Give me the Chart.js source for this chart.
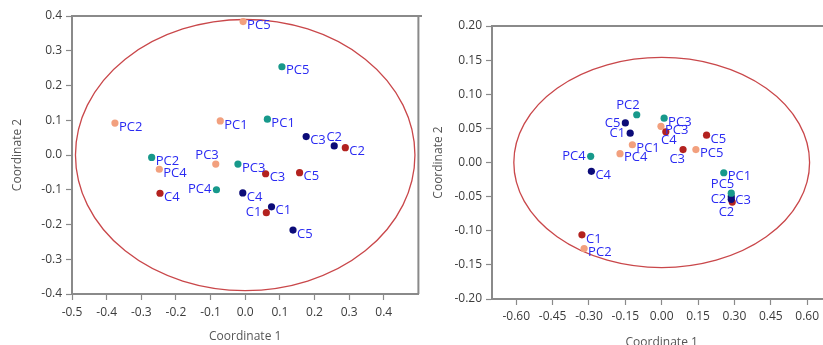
<!DOCTYPE html>
<html>
<head>
<meta charset="utf-8">
<script src="https://cdn.jsdelivr.net/npm/chart.js@4"></script>
<style>
	html, body { margin: 0; padding: 0; background: #fff; overflow: hidden; }
	#wrap { position: relative; width: 823px; height: 345px; overflow: hidden; }
	#left-chart { position: absolute; left: 0; top: 0; }
	#right-chart { position: absolute; left: 422px; top: 0; }
</style>
</head>
<body>
<div id="wrap">
	<canvas id="left-chart" width="422" height="345"></canvas>
	<canvas id="right-chart" width="413" height="345"></canvas>
</div>
<script>
var pcNames = ['PC1', 'PC2', 'PC3', 'PC4', 'PC5'];
var cNames = ['C1', 'C2', 'C3', 'C4', 'C5'];

// left plot
var leftTealX = [0.064, -0.270, -0.021, -0.083, 0.106];
var leftTealY = [0.103, -0.007, -0.026, -0.100, 0.254];
var leftSalmonX = [-0.072, -0.376, -0.085, -0.248, -0.006];
var leftSalmonY = [0.098, 0.092, -0.026, -0.041, 0.384];
var leftNavyX = [0.076, 0.257, 0.176, -0.007, 0.138];
var leftNavyY = [-0.149, 0.026, 0.053, -0.109, -0.216];
var leftRedX = [0.061, 0.289, 0.059, -0.246, 0.157];
var leftRedY = [-0.166, 0.021, -0.054, -0.110, -0.051];
var leftXTicks = [-0.5, -0.4, -0.3, -0.2, -0.1, 0.0, 0.1, 0.2, 0.3, 0.4];
var leftYTicks = [-0.4, -0.3, -0.2, -0.1, 0.0, 0.1, 0.2, 0.3, 0.4];
var leftEllipse = [0, 0, 0.49, 0.39]; // centre x, centre y, half width, half height

// right plot
var rightTealX = [0.256, -0.103, 0.010, -0.293, 0.287];
var rightTealY = [-0.015, 0.070, 0.065, 0.009, -0.045];
var rightSalmonX = [-0.121, -0.320, -0.003, -0.172, 0.141];
var rightSalmonY = [0.026, -0.126, 0.053, 0.013, 0.019];
var rightNavyX = [-0.130, 0.287, 0.287, -0.290, -0.150];
var rightNavyY = [0.043, -0.054, -0.050, -0.013, 0.058];
var rightRedX = [-0.329, 0.291, 0.088, 0.017, 0.185];
var rightRedY = [-0.106, -0.058, 0.019, 0.045, 0.040];
var rightXTicks = [-0.6, -0.45, -0.3, -0.15, 0.0, 0.15, 0.3, 0.45, 0.6];
var rightYTicks = [-0.2, -0.15, -0.1, -0.05, 0.0, 0.05, 0.1, 0.15, 0.2];
var rightEllipse = [0, 0, 0.61, 0.154];

var colors = { teal: '#17998b', navy: '#0b0b78', red: '#b3221f', salmon: '#f2a07e' };

// where a label sits next to its dot, default is right
var labelSide = {
	'L-salmon-PC3': 'al', 'L-teal-PC4': 'l', 'L-navy-C2': 'a', 'L-red-C1': 'l',
	'R-teal-PC2': 'al', 'R-teal-PC4': 'l', 'R-teal-PC5': 'al',
	'R-red-C3': 'bl', 'R-red-C4': 'b', 'R-red-C2': 'bl',
	'R-navy-C5': 'l', 'R-navy-C1': 'l', 'R-navy-C2': 'l'
};

Chart.defaults.font.family = "'Open Sans', 'DejaVu Sans', sans-serif";
Chart.defaults.font.size = 12;

function points(xs, ys)
{
	return xs.map(function (x, i) { return { x: x, y: ys[i] }; });
}

function dataset(key, names, xs, ys)
{
	return {
		key: key,
		names: names,
		data: points(xs, ys),
		backgroundColor: colors[key],
		borderWidth: 0,
		pointRadius: 3.6,
		pointHoverRadius: 3.6
	};
}

var ellipsePlugin = {
	id: 'ellipse',
	beforeDatasetsDraw: function (chart)
	{
		var e = chart.options.plugins.ellipse.values;
		var sx = chart.scales.x, sy = chart.scales.y;
		var cx = sx.getPixelForValue(e[0]), cy = sy.getPixelForValue(e[1]);
		var rx = Math.abs(sx.getPixelForValue(e[0] + e[2]) - cx);
		var ry = Math.abs(sy.getPixelForValue(e[1] + e[3]) - cy);
		var ctx = chart.ctx;
		ctx.save();
		ctx.beginPath();
		ctx.ellipse(cx, cy, rx, ry, 0, 0, Math.PI * 2);
		ctx.strokeStyle = '#c9474a';
		ctx.lineWidth = 1.3;
		ctx.stroke();
		ctx.restore();
	}
};

var framePlugin = {
	id: 'frame',
	afterDraw: function (chart)
	{
		var a = chart.chartArea, ctx = chart.ctx;
		ctx.save();
		ctx.strokeStyle = '#8a8a8a';
		ctx.lineWidth = 2;
		ctx.beginPath();
		ctx.moveTo(a.left, a.top);
		ctx.lineTo(chart.width, a.top);
		if (chart.options.plugins.frame.right) {
			ctx.moveTo(a.right, a.top);
			ctx.lineTo(a.right, a.bottom);
		}
		ctx.stroke();
		ctx.restore();
	}
};

var labelPlugin = {
	id: 'pointLabels',
	afterDatasetsDraw: function (chart)
	{
		var ctx = chart.ctx;
		var side = chart.options.plugins.pointLabels.prefix;
		ctx.save();
		ctx.font = "13px 'Open Sans', sans-serif";
		ctx.fillStyle = '#2a2af2';
		ctx.textBaseline = 'middle';
		ctx.textAlign = 'left';
		chart.data.datasets.forEach(function (ds, di) {
			var meta = chart.getDatasetMeta(di);
			meta.data.forEach(function (pt, i) {
				var text = ds.names[i];
				var s = labelSide[side + '-' + ds.key + '-' + text] || 'r';
				var w = ctx.measureText(text).width;
				var tx, ty;
				if (s === 'l') { tx = pt.x - 5 - w; ty = pt.y; }
				else if (s === 'al') { tx = pt.x + 3 - w; ty = pt.y - 9; }
				else if (s === 'a') { tx = pt.x - w / 2; ty = pt.y - 9; }
				else if (s === 'b') { tx = pt.x + 3 - w / 2; ty = pt.y + 9; }
				else if (s === 'bl') { tx = pt.x + 2 - w; ty = pt.y + 10; }
				else { tx = pt.x + 4; ty = pt.y + 4; }
				ctx.fillText(text, tx, ty);
			});
		});
		ctx.restore();
	}
};

function axis(o)
{
	return {
		type: 'linear',
		min: o.min,
		max: o.max,
		afterBuildTicks: function (scale) {
			scale.ticks = o.ticks.map(function (v) { return { value: v }; });
		},
		afterFit: function (scale) {
			if (o.width) scale.width = o.width;
			if (o.height) scale.height = o.height;
		},
		ticks: {
			color: '#3c3c3c',
			padding: o.tickPad,
			autoSkip: false,
			maxRotation: 0,
			callback: function (v) { return v.toFixed(o.decimals); }
		},
		grid: {
			drawOnChartArea: false,
			drawTicks: true,
			tickLength: 6,
			color: '#8a8a8a',
			tickWidth: 1.2
		},
		border: { display: true, color: '#8a8a8a', width: 2 },
		title: {
			display: true,
			text: o.title,
			color: '#555555',
			font: { size: 12 },
			padding: o.titlePad
		}
	};
}

function makeChart(id, prefix, sets, ell, xo, yo, pad, rightFrame)
{
	var config = {
		type: 'scatter',
		data: { datasets: sets },
		options: {
			responsive: false,
			animation: false,
			layout: { padding: pad },
			scales: { x: axis(xo), y: axis(yo) },
			plugins: {
				legend: { display: false },
				tooltip: { enabled: false },
				ellipse: { values: ell },
				frame: { right: rightFrame },
				pointLabels: { prefix: prefix }
			}
		},
		plugins: [ellipsePlugin, framePlugin, labelPlugin]
	};
	return new Chart(document.getElementById(id), config);
}

makeChart('left-chart', 'L', [
		dataset('teal', pcNames, leftTealX, leftTealY),
		dataset('navy', cNames, leftNavyX, leftNavyY),
		dataset('red', cNames, leftRedX, leftRedY),
		dataset('salmon', pcNames, leftSalmonX, leftSalmonY)
	], leftEllipse,
	{ min: -0.5, max: 0.5, ticks: leftXTicks, decimals: 1, height: 51, tickPad: 5, title: 'Coordinate 1', titlePad: { top: 0, bottom: 1 } },
	{ min: -0.4, max: 0.4, ticks: leftYTicks, decimals: 1, width: 72, tickPad: 4, title: 'Coordinate 2', titlePad: { top: 10, bottom: 0 } },
	{ top: 16, right: 2, left: 0, bottom: 0 }, true);

makeChart('right-chart', 'R', [
		dataset('teal', pcNames, rightTealX, rightTealY),
		dataset('navy', cNames, rightNavyX, rightNavyY),
		dataset('red', cNames, rightRedX, rightRedY),
		dataset('salmon', pcNames, rightSalmonX, rightSalmonY)
	], rightEllipse,
	{ min: -0.7, max: 0.7, ticks: rightXTicks, decimals: 2, height: 46, tickPad: 4, title: 'Coordinate 1', titlePad: { top: 0, bottom: -5 } },
	{ min: -0.2, max: 0.2, ticks: rightYTicks, decimals: 2, width: 70, tickPad: 4, title: 'Coordinate 2', titlePad: { top: 9, bottom: 0 } },
	{ top: 26, right: 0, left: 0, bottom: 0 }, false);
</script>
</body>
</html>
